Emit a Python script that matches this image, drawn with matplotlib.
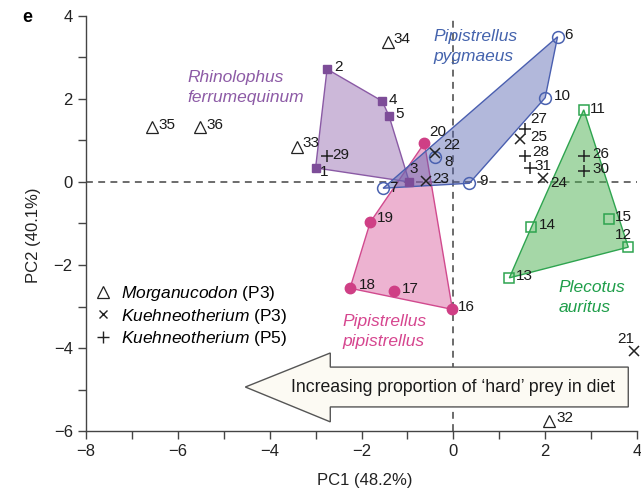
import matplotlib
matplotlib.use("Agg")
import matplotlib.pyplot as plt
from matplotlib.patches import Polygon
from matplotlib.lines import Line2D
import numpy as np

plt.rcParams['font.family'] = ['Liberation Sans', 'DejaVu Sans']
plt.rcParams['mathtext.fontset'] = 'custom'
plt.rcParams['mathtext.rm'] = 'Liberation Sans'
plt.rcParams['mathtext.it'] = 'Liberation Sans:italic'

# ---------------- data ----------------
rhino_ids = [1, 2, 3, 4, 5]
rhino_x = [-3.00, -2.75, -0.96, -1.55, -1.40]
rhino_y = [0.34, 2.72, 0.00, 1.95, 1.59]

pygm_ids = [6, 7, 8, 9, 10]
pygm_x = [2.27, -1.53, -0.40, 0.35, 2.00]
pygm_y = [3.50, -0.15, 0.60, -0.03, 2.03]

pipi_ids = [16, 17, 18, 19, 20]
pipi_x = [-0.02, -1.29, -2.25, -1.81, -0.63]
pipi_y = [-3.07, -2.62, -2.56, -0.97, 0.94]

pleco_ids = [11, 12, 13, 14, 15]
pleco_x = [2.84, 3.81, 1.22, 1.70, 3.38]
pleco_y = [1.74, -1.57, -2.31, -1.09, -0.89]

kp3_ids = [21, 22, 23, 24, 25]
kp3_x = [3.93, -0.39, -0.59, 1.96, 1.46]
kp3_y = [-4.08, 0.70, 0.02, 0.10, 1.04]

kp5_ids = [26, 27, 28, 29, 30, 31]
kp5_x = [2.84, 1.57, 1.55, -2.75, 2.84, 1.66]
kp5_y = [0.63, 1.28, 0.63, 0.63, 0.27, 0.34]

morg_ids = [32, 33, 34, 35, 36]
morg_x = [2.08, -3.40, -1.42, -6.57, -5.52]
morg_y = [-5.77, 0.85, 3.38, 1.33, 1.33]

# label offsets (pixels) for point numbers
label_off = {
    1: (9, -4), 2: (11, 2), 3: (4, 13), 4: (11, 1), 5: (11, 2),
    6: (11, 2), 7: (10, 0), 8: (14, -5), 9: (14, 2), 10: (17, 2),
    11: (14, 1), 12: (-5, 12), 13: (15, 2), 14: (16, 2), 15: (15, 2),
    16: (14, 2), 17: (16, 2), 18: (17, 3), 19: (15, 4), 20: (13, 11),
    21: (-8, 12), 22: (16, 8), 23: (15, 2), 24: (15, -5), 25: (18, 2),
    26: (17, 2), 27: (13, 10), 28: (16, 4), 29: (14, 1), 30: (17, 2),
    31: (13, 2), 32: (16, 3), 33: (14, 4), 34: (14, 3), 35: (15, 2),
    36: (15, 2),
}


def hull(xs, ys):
    pts = sorted(zip(xs, ys))

    def cross(o, a, b):
        return (a[0] - o[0]) * (b[1] - o[1]) - (a[1] - o[1]) * (b[0] - o[0])
    lower, upper = [], []
    for p in pts:
        while len(lower) >= 2 and cross(lower[-2], lower[-1], p) <= 0:
            lower.pop()
        lower.append(p)
    for p in reversed(pts):
        while len(upper) >= 2 and cross(upper[-2], upper[-1], p) <= 0:
            upper.pop()
        upper.append(p)
    return lower[:-1] + upper[:-1]


fig = plt.figure(figsize=(6.41, 4.90), dpi=100)
ax = fig.add_axes([86 / 641, 1 - 431 / 490, (637 - 86) / 641, (431 - 16) / 490])
ax.set_xlim(-8, 4)
ax.set_ylim(-6, 4)

# dashed zero lines
ax.axhline(0, color='#444444', lw=1.1, ls=(0, (4.5, 3.5)), zorder=1)
ax.axvline(0, color='#444444', lw=1.1, ls=(0, (4.5, 3.5)), zorder=1)

groups = [
    (pipi_x, pipi_y, '#d8579a', '#d14a8e', 0.45, 2),
    (rhino_x, rhino_y, '#9b72b5', '#8a5aa5', 0.5, 3),
    (pygm_x, pygm_y, '#5562b0', '#4a5fb0', 0.45, 4),
    (pleco_x, pleco_y, '#4cb050', '#2ea44f', 0.5, 2),
]
for xs, ys, fc, ec, a, z in groups:
    h = hull(xs, ys)
    ax.add_patch(Polygon(h, closed=True, facecolor=fc, alpha=a, edgecolor='none', zorder=z))
    ax.add_patch(Polygon(h, closed=True, facecolor='none', edgecolor=ec, lw=1.0, zorder=z + 0.1))

ax.plot(rhino_x, rhino_y, 's', ms=5.5, color='#7d4d98', ls='none', zorder=6, clip_on=False)
ax.plot(pygm_x, pygm_y, 'o', ms=8.5, mfc='none', mec='#4a62b0', mew=1.1, ls='none', zorder=6, clip_on=False)
ax.plot(pipi_x, pipi_y, 'o', ms=7.5, color='#cf3f85', ls='none', zorder=6, clip_on=False)
ax.plot(pleco_x, pleco_y, 's', ms=6.5, mfc='none', mec='#2ea44f', mew=1.1, ls='none', zorder=6, clip_on=False)
ax.plot(kp3_x, kp3_y, 'x', ms=7, color='#222222', mew=1.1, ls='none', zorder=7, clip_on=False)
ax.plot(kp5_x, kp5_y, '+', ms=9, color='#222222', mew=1.1, ls='none', zorder=7, clip_on=False)
ax.plot(morg_x, morg_y, '^', ms=9, mfc='none', mec='#222222', mew=0.9, ls='none', zorder=7, clip_on=False)

for ids, xs, ys in [(rhino_ids, rhino_x, rhino_y), (pygm_ids, pygm_x, pygm_y),
                    (pipi_ids, pipi_x, pipi_y), (pleco_ids, pleco_x, pleco_y),
                    (kp3_ids, kp3_x, kp3_y), (kp5_ids, kp5_x, kp5_y),
                    (morg_ids, morg_x, morg_y)]:
    for i, x, y in zip(ids, xs, ys):
        dx, dy = label_off[i]
        ax.annotate(str(i), (x, y), xytext=(dx, dy), textcoords='offset pixels',
                    ha='center', va='center', fontsize=11, color='#1a1a1a',
                    zorder=8, annotation_clip=False)

# species labels
sp_kw = dict(style='italic', fontsize=12.5, ha='left', va='center', linespacing=1.4)
ax.text(-5.79, 2.27, 'Rhinolophus\nferrumequinum', color='#8d5ba6', **sp_kw)
ax.text(-0.44, 3.26, 'Pipistrellus\npygmaeus', color='#4463ad', **sp_kw)
ax.text(-2.42, -3.6, 'Pipistrellus\npipistrellus', color='#d6468f', **sp_kw)
ax.text(2.29, -2.78, 'Plecotus\nauritus', color='#1f9e4a', **sp_kw)

# arrow
arrow_pts = [(-4.53, -4.94), (-2.68, -4.12), (-2.68, -4.46), (3.81, -4.46),
             (3.81, -5.42), (-2.68, -5.42), (-2.68, -5.78)]
ax.add_patch(Polygon(arrow_pts, closed=True, facecolor='#fcfaf3', edgecolor='#555555',
                     lw=1.0, zorder=5))
ax.text(0.0, -4.94, 'Increasing proportion of \u2018hard\u2019 prey in diet', fontsize=12.7,
        ha='center', va='center', color='#1a1a1a', zorder=6)

# legend
handles = [
    Line2D([], [], marker='^', ms=9, mfc='none', mec='#222222', mew=0.9, ls='none'),
    Line2D([], [], marker='x', ms=6, color='#222222', mew=1.0, ls='none'),
    Line2D([], [], marker='+', ms=9, color='#222222', mew=1.0, ls='none'),
]
labels = [r'$\mathit{Morganucodon}$ (P3)', r'$\mathit{Kuehneotherium}$ (P3)',
          r'$\mathit{Kuehneotherium}$ (P5)']
leg = ax.legend(handles, labels, loc='upper left', bbox_to_anchor=(0.0, 0.38),
                frameon=False, fontsize=12.5, handlelength=0.8, handletextpad=0.6,
                labelspacing=0.22, borderaxespad=0.2)

# axes styling
for s in ['top', 'right']:
    ax.spines[s].set_visible(False)
for s in ['left', 'bottom']:
    ax.spines[s].set_color('#444444')
    ax.spines[s].set_linewidth(1.0)
ax.set_xticks([-8, -6, -4, -2, 0, 2, 4])
ax.set_xticks([-7, -5, -3, -1, 1, 3], minor=True)
ax.set_yticks([-6, -4, -2, 0, 2, 4])
ax.set_yticks([-5, -3, -1, 1, 3], minor=True)
ax.set_xticklabels(['\u22128', '\u22126', '\u22124', '\u22122', '0', '2', '4'])
ax.set_yticklabels(['\u22126', '\u22124', '\u22122', '0', '2', '4'])
ax.tick_params(which='both', direction='out', length=6, width=1.0, color='#444444',
               labelsize=12, labelcolor='#222222')
ax.set_xlabel('PC1 (48.2%)', fontsize=12, color='#222222')
ax.set_ylabel('PC2 (40.1%)', fontsize=12, color='#222222')
ax.xaxis.set_label_coords(0.505, -0.12)
ax.yaxis.set_label_coords(-0.096, 0.472)
ax.xaxis.label.set_va('center')
ax.yaxis.label.set_va('center')

fig.text(27 / 641, 1 - 17 / 490, 'e', fontsize=13, fontweight='bold', ha='center', va='center')

fig.savefig('out.png', dpi=100)
